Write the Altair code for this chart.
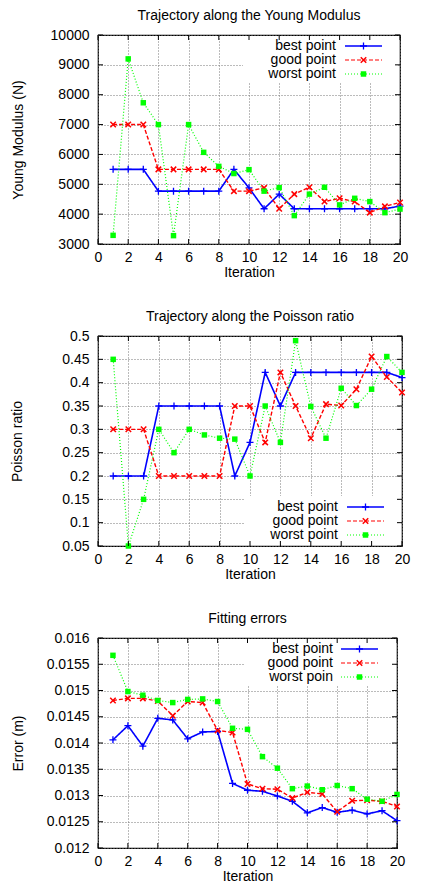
import altair as alt
import pandas as pd

iterations = list(range(1, 21))
series_names = ["best point", "good point", "worst point"]

young_best = [5500, 5500, 5500, 4770, 4770, 4770, 4770, 4770, 5500, 4880,
              4180, 4670, 4180, 4180, 4180, 4180, 4180, 4180, 4180, 4270]
young_good = [7000, 7000, 7000, 5500, 5500, 5500, 5500, 5500, 4770, 4770,
              4880, 4180, 4670, 4900, 4420, 4530, 4420, 4050, 4260, 4390]
young_worst = [3290, 9200, 7730, 7000, 3280, 7000, 6070, 5600, 5360, 5490,
               4770, 4890, 3950, 4670, 4900, 4310, 4530, 4420, 4050, 4170]

poisson_best = [0.2, 0.2, 0.2, 0.35, 0.35, 0.35, 0.35, 0.35, 0.2, 0.272,
                0.422, 0.35, 0.422, 0.422, 0.422, 0.422, 0.422, 0.422, 0.422, 0.411]
poisson_good = [0.3, 0.3, 0.3, 0.2, 0.2, 0.2, 0.2, 0.2, 0.35, 0.35,
                0.272, 0.422, 0.35, 0.281, 0.354, 0.351, 0.386, 0.456, 0.412, 0.379]
poisson_worst = [0.45, 0.05, 0.15, 0.3, 0.25, 0.3, 0.288, 0.281, 0.279, 0.2,
                 0.35, 0.272, 0.49, 0.349, 0.281, 0.388, 0.351, 0.386, 0.456, 0.422]

error_best = [0.01406, 0.01433, 0.01394, 0.01447, 0.01444, 0.01408, 0.01421, 0.01422, 0.01323, 0.01310,
              0.01308, 0.01299, 0.01289, 0.01267, 0.01277, 0.01268, 0.01272, 0.01265, 0.01271, 0.01252]
error_good = [0.01481, 0.01485, 0.01485, 0.01480, 0.01452, 0.01479, 0.01477, 0.01424, 0.01420, 0.01322,
              0.01313, 0.01312, 0.01295, 0.01306, 0.01303, 0.01269, 0.01290, 0.01291, 0.01289, 0.01279]
error_worst = [0.01567, 0.01498, 0.01491, 0.01481, 0.01477, 0.01483, 0.01484, 0.01479, 0.01428, 0.01426,
               0.01374, 0.01352, 0.01313, 0.01318, 0.01311, 0.01319, 0.01313, 0.01293, 0.01289, 0.01302]

x_ticks = list(range(0, 21, 2))
young_ticks = list(range(3000, 10001, 1000))
poisson_ticks = [round(0.05 * i, 2) for i in range(1, 11)]
error_ticks = [round(0.012 + 0.0005 * i, 4) for i in range(0, 9)]

COLORS = ["#0000ff", "#ff0000", "#00ff00"]
DASHES = [[1, 0], [4, 2], [1, 2]]
WIDTHS = [1.6, 1.2, 1.2]
FONT = "Liberation Sans"
PLUS = "M-1,0L1,0M0,-1L0,1"
XSHAPE = "M-1,-1L1,1M-1,1L1,-1"


def make_panel(values, title, ytitle, ydomain, yticks, yfmt, W, H, tpad,
               legend_labels, box, text_right, rows, line_x0, line_x1):
    recs = []
    for name, vals in zip(series_names, values):
        for it, v in zip(iterations, vals):
            recs.append({"Iteration": it, "value": v, "series": name})
    df = pd.DataFrame(recs)

    xaxis = alt.Axis(tickCount=10, title="Iteration", format="d",
                     labelPadding=6, titlePadding=1)
    yaxis = alt.Axis(values=yticks, title=ytitle, format=yfmt,
                     labelPadding=9, titlePadding=tpad)
    xscale = alt.Scale(domain=[0, 20], nice=False, zero=False)
    yscale = alt.Scale(domain=ydomain, nice=False, zero=False)
    X = alt.X("Iteration:Q", scale=xscale, axis=xaxis)
    Y = alt.Y("value:Q", scale=yscale, axis=yaxis)
    cscale = alt.Scale(domain=series_names, range=COLORS)

    lines = alt.Chart(df).mark_line().encode(
        x=X, y=Y,
        color=alt.Color("series:N", scale=cscale, legend=None),
        strokeDash=alt.StrokeDash("series:N", scale=alt.Scale(domain=series_names, range=DASHES), legend=None),
        strokeWidth=alt.StrokeWidth("series:N", scale=alt.Scale(domain=series_names, range=WIDTHS), legend=None),
    )
    pts_best = alt.Chart(df).transform_filter(alt.datum.series == series_names[0]).mark_point(
        shape=PLUS, size=49, filled=False, color=COLORS[0], strokeWidth=1.3, opacity=1
    ).encode(x=X, y=Y)
    pts_good = alt.Chart(df).transform_filter(alt.datum.series == series_names[1]).mark_point(
        shape=XSHAPE, size=30, filled=False, color=COLORS[1], strokeWidth=1.5, opacity=1
    ).encode(x=X, y=Y)
    pts_worst = alt.Chart(df).transform_filter(alt.datum.series == series_names[2]).mark_point(
        shape="square", size=30, filled=True, color=COLORS[2], opacity=1
    ).encode(x=X, y=Y)

    xt = pd.DataFrame({"Iteration": x_ticks})
    yt = pd.DataFrame({"value": yticks})
    tick_b = alt.Chart(xt).mark_rule(color="black", strokeWidth=1).encode(
        x=X, y=alt.value(H), y2=alt.value(H - 5))
    tick_t = alt.Chart(xt).mark_rule(color="black", strokeWidth=1).encode(
        x=X, y=alt.value(0), y2=alt.value(5))
    tick_l = alt.Chart(yt).mark_rule(color="black", strokeWidth=1).encode(
        y=Y, x=alt.value(0), x2=alt.value(5))
    tick_r = alt.Chart(yt).mark_rule(color="black", strokeWidth=1).encode(
        y=Y, x=alt.value(W - 5), x2=alt.value(W))

    one = alt.Data(values=[{"k": 1}])
    leg = [alt.Chart(one).mark_rect(color="white").encode(
        x=alt.value(box[0]), x2=alt.value(box[1]), y=alt.value(box[2]), y2=alt.value(box[3]))]
    shapes = [(PLUS, 49, False, 1.3), (XSHAPE, 30, False, 1.5), ("square", 30, True, 0)]
    mid = (line_x0 + line_x1) / 2
    for i, lab in enumerate(legend_labels):
        leg.append(alt.Chart(one).mark_text(
            align="right", baseline="middle", fontSize=14, font=FONT, color="black"
        ).encode(x=alt.value(text_right), y=alt.value(rows[i]), text=alt.value(lab)))
        leg.append(alt.Chart(one).mark_rule(
            color=COLORS[i], strokeDash=DASHES[i], strokeWidth=WIDTHS[i]
        ).encode(x=alt.value(line_x0), x2=alt.value(line_x1), y=alt.value(rows[i])))
        shp, sz, fl, sw = shapes[i]
        leg.append(alt.Chart(one).mark_point(
            shape=shp, size=sz, filled=fl, color=COLORS[i], strokeWidth=sw if sw else 1, opacity=1
        ).encode(x=alt.value(mid), y=alt.value(rows[i])))

    return alt.layer(
        lines, *leg, pts_best, pts_good, pts_worst, tick_b, tick_t, tick_l, tick_r
    ).properties(
        width=W, height=H,
        title=alt.TitleParams(title, fontSize=14, font=FONT, fontWeight="normal",
                              color="black", anchor="middle", frame="group", offset=5),
    )


p1 = make_panel([young_best, young_good, young_worst],
                "Trajectory along the Young Modulus", "Young Modulus (N)",
                [3000, 10000], young_ticks, "d", 302, 209, 25,
                ["best point", "good point", "worst point"],
                (145, 300, 1, 48), 238, [11, 25, 39], 247, 284)
p2 = make_panel([poisson_best, poisson_good, poisson_worst],
                "Trajectory along the Poisson ratio", "Poisson ratio",
                [0.05, 0.5], poisson_ticks, ".2~g", 304, 210, 37,
                ["best point", "good point", "worst point"],
                (147, 302, 160, 209), 240, [171, 185, 199], 249, 286)
p3 = make_panel([error_best, error_good, error_worst],
                "Fitting errors", "Error (m)",
                [0.012, 0.016], error_ticks, ".3~g", 299, 210, 21,
                ["best point", "good point", "worst poin"],
                (147, 296, 1, 48), 235, [11, 25, 39], 243, 280)

chart = alt.concat(p1, p2, p3, columns=1, align="none", spacing=29).properties(
    padding={"left": 2, "top": 0, "right": 0, "bottom": 0}
).configure(
    background="white"
).configure_view(
    stroke="black", strokeWidth=1.2
).configure_axis(
    labelOverlap=False, labelFlush=False, labelBound=False, grid=True, ticks=False,
    domain=False, gridColor="#777777", gridDash=[1, 2], labelFontSize=14,
    titleFontSize=14, labelFont=FONT, titleFont=FONT, titleFontWeight="normal",
    labelColor="black", titleColor="black"
)

chart.save("out.html", embed_options={"renderer": "svg", "actions": False})
